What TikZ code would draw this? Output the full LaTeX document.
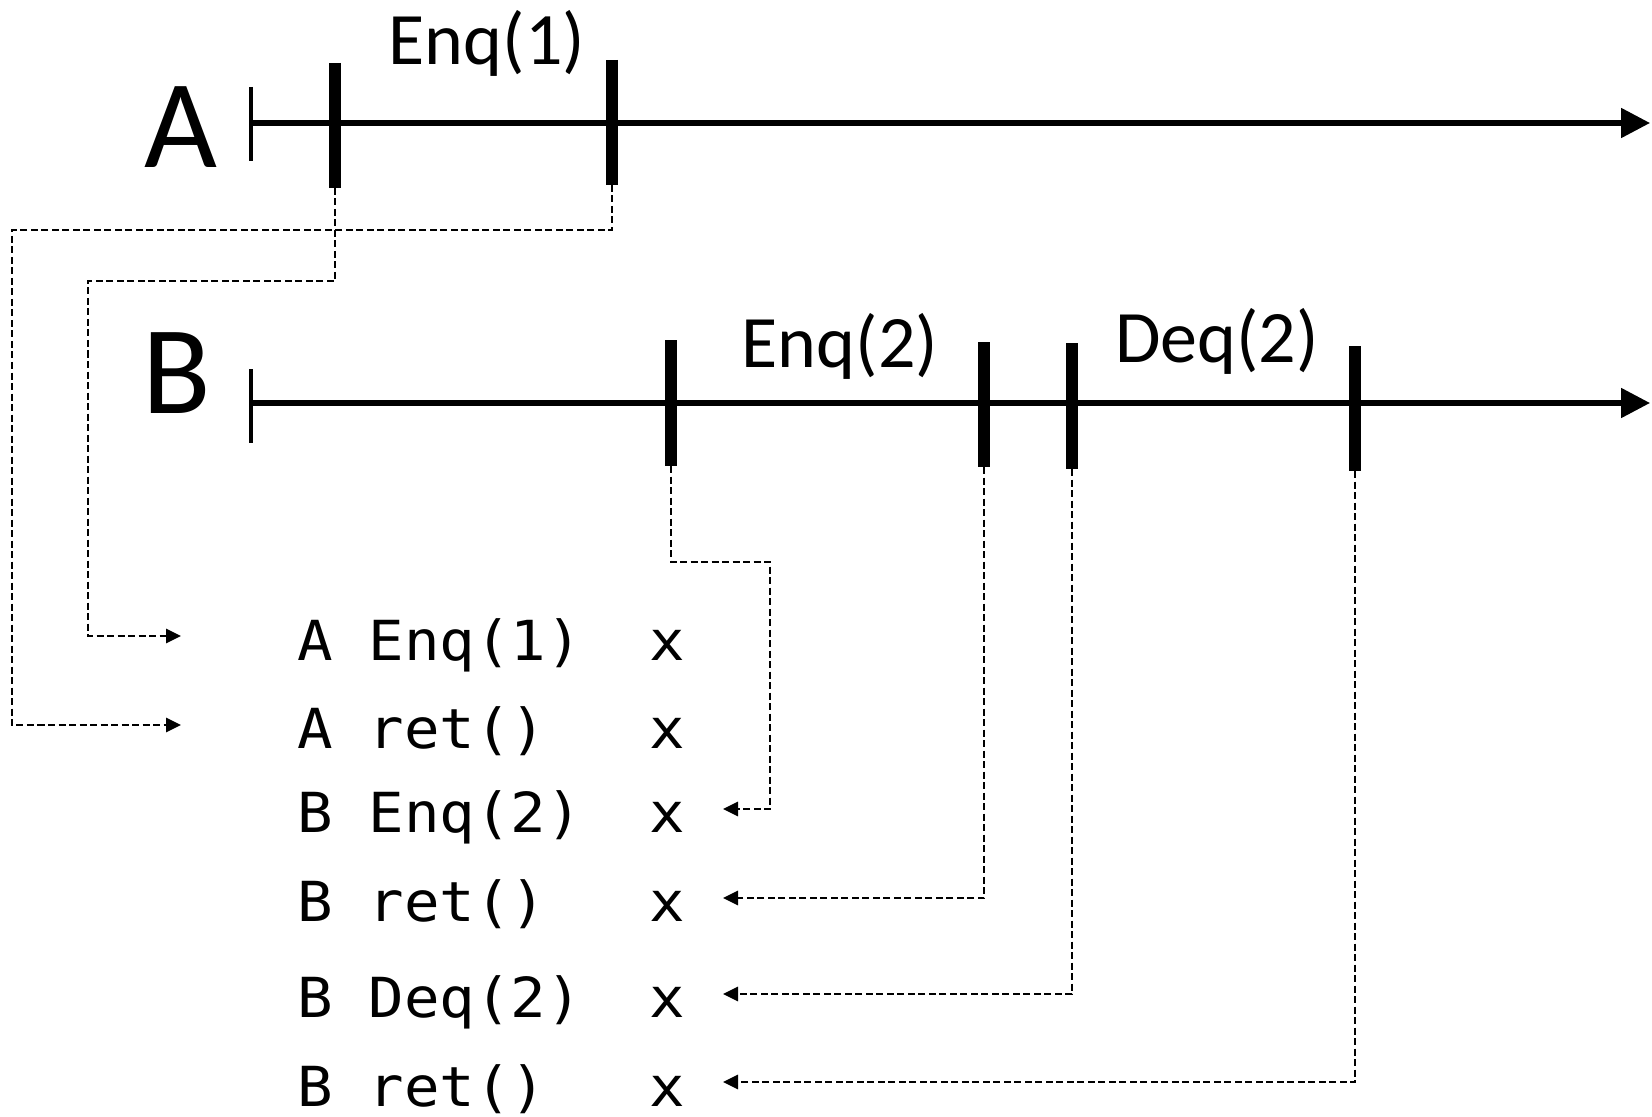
\documentclass[tikz,border=0pt]{standalone}
\usepackage{fontspec}
\usetikzlibrary{arrows.meta}
\newfontfamily\labfont{Carlito}
\newfontfamily\codefont[FakeStretch=1.07]{DejaVu Sans Mono}
\begin{document}
\begin{tikzpicture}[x=0.5pt,y=-0.5pt,
  timeline/.style={line width=2.6pt,-{Triangle[length=14.5pt,width=14.5pt]}},
  startmark/.style={line width=2.4pt},
  tickmark/.style={line width=5.8pt},
  conn/.style={line width=1.45pt,dash pattern=on 3.5pt off 1.75pt,-{Triangle[length=7.5pt,width=7pt]}},
  big/.style={font=\labfont\fontsize{63}{63}\selectfont,inner sep=0pt,anchor=base},
  oplabel/.style={font=\labfont\fontsize{37}{37}\selectfont,inner sep=0pt,anchor=base},
  code/.style={font=\codefont\fontsize{27.6}{27.6}\selectfont,inner sep=0pt,anchor=base west}]
\useasboundingbox (0,0) rectangle (1652,1117);

% process labels
\node[big] (lA) at (181,168) {A};
\node[big] (lB) at (177,413) {B};

% timeline A
\coordinate (As) at (251,123);
\coordinate (Ae) at (1650,123);
\draw[startmark] (251,87) -- (251,161);
\draw[timeline] (As) -- (Ae);
\coordinate (A1t) at (335,63);  \coordinate (A1b) at (335,188);
\coordinate (A2t) at (612,60);  \coordinate (A2b) at (612,185);
\draw[tickmark] (A1t) -- (A1b);
\draw[tickmark] (A2t) -- (A2b);
\node[oplabel] (e1) at (487,65) {Enq(1)};

% timeline B
\coordinate (Bs) at (251,403);
\coordinate (Be) at (1650,403);
\draw[startmark] (251,369) -- (251,443);
\draw[timeline] (Bs) -- (Be);
\coordinate (B1t) at (671,340);  \coordinate (B1b) at (671,466);
\coordinate (B2t) at (984,342);  \coordinate (B2b) at (984,467);
\coordinate (B3t) at (1072,343); \coordinate (B3b) at (1072,469);
\coordinate (B4t) at (1355,346); \coordinate (B4b) at (1355,471);
\draw[tickmark] (B1t) -- (B1b);
\draw[tickmark] (B2t) -- (B2b);
\draw[tickmark] (B3t) -- (B3b);
\draw[tickmark] (B4t) -- (B4b);
\node[oplabel] (e2) at (840,367) {Enq(2)};
\node[oplabel] (d2) at (1217,363) {Deq(2)};

% history rows
\node[code] (r1) at (297,660) {A Enq(1)};
\node[code] (r2) at (297,748) {A ret()};
\node[code] (r3) at (297,832) {B Enq(2)};
\node[code] (r4) at (297,921) {B ret()};
\node[code] (r5) at (297,1017) {B Deq(2)};
\node[code] (r6) at (297,1106) {B ret()};
\node[code] (x1) at (649,660) {x};
\node[code] (x2) at (649,748) {x};
\node[code] (x3) at (649,832) {x};
\node[code] (x4) at (649,921) {x};
\node[code] (x5) at (649,1017) {x};
\node[code] (x6) at (649,1106) {x};

% arrow ends
\coordinate (in1) at (181,636);
\coordinate (in2) at (181,725);
\coordinate (in3) at (723,809);
\coordinate (in4) at (723,898);
\coordinate (in5) at (723,994);
\coordinate (in6) at (723,1082);

% connectors
\draw[conn] (A1b) -- (335,281) -- (88,281) -- (88,636) -- (in1);
\draw[conn] (A2b) -- (612,230) -- (12,230) -- (12,725) -- (in2);
\draw[conn] (B1b) -- (671,562) -- (770,562) -- (770,809) -- (in3);
\draw[conn] (B2b) |- (in4);
\draw[conn] (B3b) |- (in5);
\draw[conn] (B4b) |- (in6);
\end{tikzpicture}
\end{document}
